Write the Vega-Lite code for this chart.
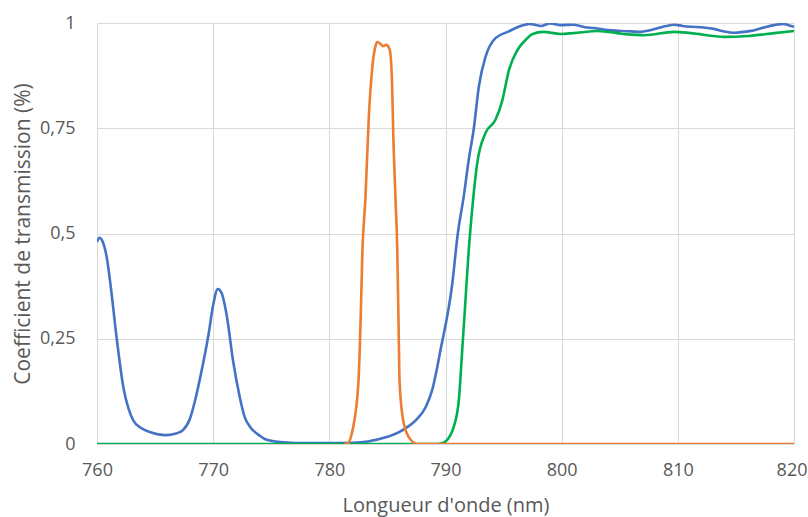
{
  "$schema": "https://vega.github.io/schema/vega-lite/v6.json",
  "width": 697,
  "height": 421,
  "autosize": {"type": "none"},
  "padding": {"left": 97, "top": 23, "right": 14, "bottom": 73},
  "background": "white",
  "config": {
    "view": {"stroke": null},
    "font": "Open Sans",
    "axis": {"gridColor": "#d9d9d9", "gridWidth": 1, "domain": false, "ticks": false, "labelColor": "#595959", "titleColor": "#595959", "labelFontSize": 18, "titleFontSize": 20, "titleFontWeight": "normal", "labelFont": "Open Sans", "titleFont": "Open Sans", "labelFlush": false, "labelOverlap": false}
  },
  "data": {"values": [
    {"wl": 760, "t": 0.48, "s": "A"}, {"wl": 760.2, "t": 0.49, "s": "A"}, {"wl": 760.5, "t": 0.48, "s": "A"}, {"wl": 760.86, "t": 0.44, "s": "A"}, {"wl": 761.2, "t": 0.37, "s": "A"}, {"wl": 761.7, "t": 0.25, "s": "A"}, {"wl": 762.3, "t": 0.13, "s": "A"}, {"wl": 762.7, "t": 0.085, "s": "A"}, {"wl": 763.1, "t": 0.057, "s": "A"}, {"wl": 763.8, "t": 0.038, "s": "A"}, {"wl": 764.6, "t": 0.028, "s": "A"}, {"wl": 765.9, "t": 0.021, "s": "A"}, {"wl": 766.8, "t": 0.025, "s": "A"}, {"wl": 767.4, "t": 0.033, "s": "A"}, {"wl": 768, "t": 0.06, "s": "A"}, {"wl": 768.5, "t": 0.11, "s": "A"}, {"wl": 768.9, "t": 0.16, "s": "A"}, {"wl": 769.6, "t": 0.26, "s": "A"}, {"wl": 770, "t": 0.33, "s": "A"}, {"wl": 770.4, "t": 0.368, "s": "A"}, {"wl": 770.7, "t": 0.36, "s": "A"}, {"wl": 771.2, "t": 0.3, "s": "A"}, {"wl": 771.7, "t": 0.2, "s": "A"}, {"wl": 772.3, "t": 0.11, "s": "A"}, {"wl": 772.7, "t": 0.065, "s": "A"}, {"wl": 773.2, "t": 0.04, "s": "A"}, {"wl": 774, "t": 0.02, "s": "A"}, {"wl": 774.6, "t": 0.01, "s": "A"}, {"wl": 776, "t": 0.004, "s": "A"}, {"wl": 778, "t": 0.002, "s": "A"}, {"wl": 780, "t": 0.002, "s": "A"}, {"wl": 782, "t": 0.003, "s": "A"}, {"wl": 783.3, "t": 0.006, "s": "A"}, {"wl": 785, "t": 0.017, "s": "A"}, {"wl": 786, "t": 0.028, "s": "A"}, {"wl": 786.7, "t": 0.04, "s": "A"}, {"wl": 787.5, "t": 0.058, "s": "A"}, {"wl": 788.3, "t": 0.088, "s": "A"}, {"wl": 788.85, "t": 0.128, "s": "A"}, {"wl": 789.57, "t": 0.223, "s": "A"}, {"wl": 790.58, "t": 0.38, "s": "A"}, {"wl": 791.06, "t": 0.5, "s": "A"}, {"wl": 791.58, "t": 0.59, "s": "A"}, {"wl": 792.0, "t": 0.675, "s": "A"}, {"wl": 792.44, "t": 0.75, "s": "A"}, {"wl": 792.87, "t": 0.849, "s": "A"}, {"wl": 793.45, "t": 0.92, "s": "A"}, {"wl": 794.3, "t": 0.964, "s": "A"}, {"wl": 795.46, "t": 0.98, "s": "A"}, {"wl": 796.2, "t": 0.99, "s": "A"}, {"wl": 796.75, "t": 0.995, "s": "A"}, {"wl": 797.2, "t": 0.998, "s": "A"}, {"wl": 797.7, "t": 0.996, "s": "A"}, {"wl": 798.2, "t": 0.993, "s": "A"}, {"wl": 799, "t": 0.999, "s": "A"}, {"wl": 799.9, "t": 0.995, "s": "A"}, {"wl": 801, "t": 0.996, "s": "A"}, {"wl": 802, "t": 0.99, "s": "A"}, {"wl": 802.8, "t": 0.988, "s": "A"}, {"wl": 804, "t": 0.983, "s": "A"}, {"wl": 805.1, "t": 0.981, "s": "A"}, {"wl": 806, "t": 0.98, "s": "A"}, {"wl": 806.8, "t": 0.979, "s": "A"}, {"wl": 807.5, "t": 0.982, "s": "A"}, {"wl": 808.3, "t": 0.988, "s": "A"}, {"wl": 809, "t": 0.993, "s": "A"}, {"wl": 809.7, "t": 0.996, "s": "A"}, {"wl": 810.4, "t": 0.993, "s": "A"}, {"wl": 811.1, "t": 0.991, "s": "A"}, {"wl": 812, "t": 0.99, "s": "A"}, {"wl": 813.1, "t": 0.986, "s": "A"}, {"wl": 814, "t": 0.98, "s": "A"}, {"wl": 814.8, "t": 0.977, "s": "A"}, {"wl": 815.7, "t": 0.979, "s": "A"}, {"wl": 816.6, "t": 0.983, "s": "A"}, {"wl": 817.5, "t": 0.99, "s": "A"}, {"wl": 818.3, "t": 0.995, "s": "A"}, {"wl": 819.1, "t": 0.998, "s": "A"}, {"wl": 819.6, "t": 0.994, "s": "A"}, {"wl": 820, "t": 0.991, "s": "A"},

    {"wl": 760, "t": 0, "s": "C"}, {"wl": 770, "t": 0, "s": "C"}, {"wl": 780, "t": 0, "s": "C"}, {"wl": 789.3, "t": 0, "s": "C"}, {"wl": 789.7, "t": 0.002, "s": "C"}, {"wl": 790, "t": 0.006, "s": "C"}, {"wl": 790.4, "t": 0.02, "s": "C"}, {"wl": 790.7, "t": 0.04, "s": "C"}, {"wl": 791.15, "t": 0.105, "s": "C"}, {"wl": 791.44, "t": 0.223, "s": "C"}, {"wl": 791.72, "t": 0.342, "s": "C"}, {"wl": 792.0, "t": 0.46, "s": "C"}, {"wl": 792.24, "t": 0.54, "s": "C"}, {"wl": 792.73, "t": 0.667, "s": "C"}, {"wl": 793.45, "t": 0.739, "s": "C"}, {"wl": 794.3, "t": 0.77, "s": "C"}, {"wl": 794.9, "t": 0.817, "s": "C"}, {"wl": 795.46, "t": 0.888, "s": "C"}, {"wl": 796.2, "t": 0.936, "s": "C"}, {"wl": 796.9, "t": 0.96, "s": "C"}, {"wl": 797.5, "t": 0.974, "s": "C"}, {"wl": 798.4, "t": 0.979, "s": "C"}, {"wl": 799.9, "t": 0.974, "s": "C"}, {"wl": 801, "t": 0.976, "s": "C"}, {"wl": 803.1, "t": 0.981, "s": "C"}, {"wl": 805.3, "t": 0.974, "s": "C"}, {"wl": 807.1, "t": 0.971, "s": "C"}, {"wl": 809.7, "t": 0.979, "s": "C"}, {"wl": 811.1, "t": 0.976, "s": "C"}, {"wl": 814, "t": 0.967, "s": "C"}, {"wl": 816, "t": 0.969, "s": "C"}, {"wl": 818.3, "t": 0.976, "s": "C"}, {"wl": 820, "t": 0.981, "s": "C"},

    {"wl": 781.3, "t": 0, "s": "B"}, {"wl": 781.6, "t": 0.002, "s": "B"}, {"wl": 782, "t": 0.033, "s": "B"}, {"wl": 782.5, "t": 0.145, "s": "B"}, {"wl": 782.7, "t": 0.3, "s": "B"}, {"wl": 782.85, "t": 0.46, "s": "B"}, {"wl": 783.1, "t": 0.58, "s": "B"}, {"wl": 783.4, "t": 0.777, "s": "B"}, {"wl": 783.7, "t": 0.895, "s": "B"}, {"wl": 784, "t": 0.948, "s": "B"}, {"wl": 784.1, "t": 0.955, "s": "B"}, {"wl": 784.35, "t": 0.952, "s": "B"}, {"wl": 784.6, "t": 0.945, "s": "B"}, {"wl": 784.9, "t": 0.948, "s": "B"}, {"wl": 785.2, "t": 0.936, "s": "B"}, {"wl": 785.4, "t": 0.857, "s": "B"}, {"wl": 785.5, "t": 0.74, "s": "B"}, {"wl": 785.7, "t": 0.58, "s": "B"}, {"wl": 785.85, "t": 0.46, "s": "B"}, {"wl": 785.95, "t": 0.3, "s": "B"}, {"wl": 786.05, "t": 0.145, "s": "B"}, {"wl": 786.4, "t": 0.05, "s": "B"}, {"wl": 787, "t": 0.01, "s": "B"}, {"wl": 787.6, "t": 0, "s": "B"}, {"wl": 800, "t": 0, "s": "B"}, {"wl": 820, "t": 0, "s": "B"}
  ]},
  "mark": {"type": "line", "strokeWidth": 2.6, "interpolate": "monotone", "clip": true},
  "encoding": {
    "x": {"field": "wl", "type": "quantitative", "scale": {"domain": [760, 820], "nice": false, "zero": false}, "axis": {"values": [760, 770, 780, 790, 800, 810, 820], "title": "Longueur d'onde (nm)", "labelPadding": 17, "titlePadding": 16, "format": "d", "labelAlign": {"condition": {"test": "datum.value == 820", "value": "right"}, "value": "center"}, "labelOffset": {"condition": {"test": "datum.value == 820", "value": 13}, "value": 0}}},
    "y": {"field": "t", "type": "quantitative", "scale": {"domain": [0, 1], "nice": false}, "axis": {"values": [0, 0.25, 0.5, 0.75, 1], "title": "Coefficient de transmission (%)", "titleFontSize": 21, "labelPadding": 22, "titlePadding": 6, "labelExpr": "replace(toString(datum.value), '.', ',')"}},
    "color": {"field": "s", "type": "nominal", "scale": {"domain": ["A", "C", "B"], "range": ["#4472C4", "#00B050", "#ED7D31"]}, "legend": null},
    "order": {"field": "wl", "type": "quantitative"}
  }
}
